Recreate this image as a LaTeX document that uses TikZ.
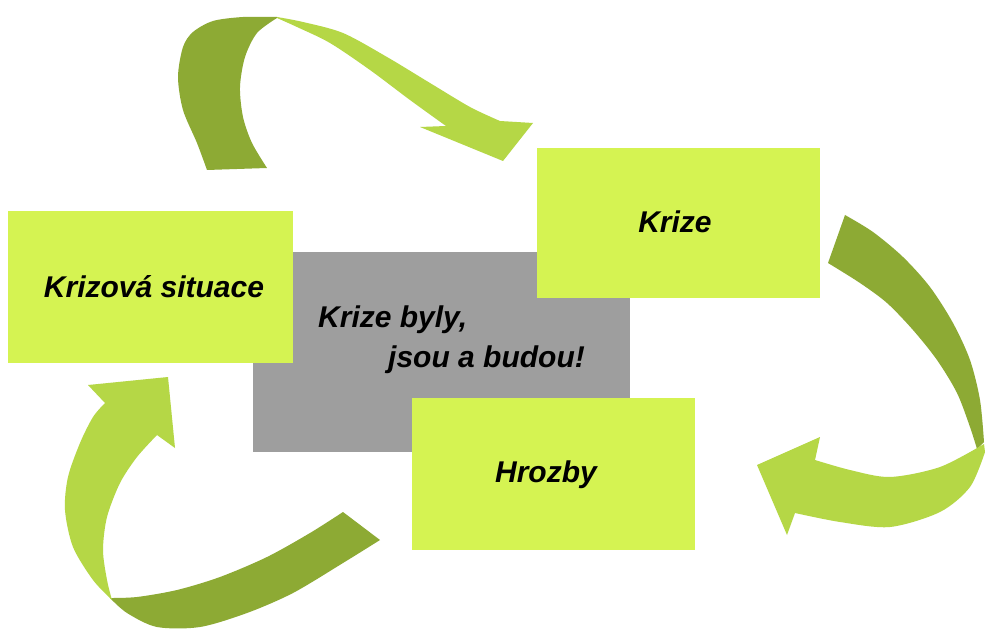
\documentclass[tikz,border=0pt]{standalone}
\usepackage{fontspec}
\setmainfont{Liberation Sans}
\definecolor{boxgreen}{RGB}{213,243,82}
\definecolor{arrowlight}{RGB}{181,215,70}
\definecolor{arrowdark}{RGB}{141,170,52}
\definecolor{centergray}{RGB}{158,158,158}
\begin{document}
\begin{tikzpicture}[x=1pt,y=-1pt,
  box/.style={fill=boxgreen, draw=none, inner sep=0pt},
  graybox/.style={fill=centergray, draw=none, inner sep=0pt},
  txt/.style={font=\fontsize{30}{36}\selectfont\bfseries\itshape, text=black, inner sep=0pt, anchor=base},
  darkpart/.style={fill=arrowdark, draw=none},
  lightpart/.style={fill=arrowlight, draw=none}]
\useasboundingbox[fill=white] (0,0) rectangle (985,631);

% ---- top arrow (Krizova situace -> Krize)
\fill[darkpart] plot[smooth] coordinates {(207,170) (197,143) (183,110) (178,77) (183,47) (193,32) (213,21) (243,17) (277,17)}
  -- plot[smooth] coordinates {(277,18) (257,33) (245,57) (240,87) (243,117) (252,143) (267,168)} -- cycle;
\fill[lightpart] plot[smooth] coordinates {(277,17) (303,22) (343,33) (387,57) (430,83) (470,107) (500,121)}
  -- (533,123) -- (503,161) -- (420,127) -- (446,126)
  -- plot[smooth] coordinates {(446,126) (410,100) (370,70) (330,43) (297,27) (277,18)} -- cycle;

% ---- right arrow (Krize -> Hrozby)
\fill[darkpart] plot[smooth] coordinates {(845,215) (873,232) (903,257) (930,287) (953,323) (970,360) (980,400) (984,442)}
  -- plot[smooth] coordinates {(977,449) (970,427) (957,393) (937,360) (913,330) (887,303) (860,283) (828,263)} -- cycle;
\fill[lightpart] plot[smooth] coordinates {(984,444) (940,467) (890,477) (850,470) (815,460)}
  -- (820,437) -- (757,465) -- (787,535) -- (795,513)
  -- plot[smooth] coordinates {(795,513) (840,522) (890,527) (940,512) (970,487) (985,452)} -- cycle;

% ---- bottom-left arrow (Hrozby -> Krizova situace)
\fill[darkpart] plot[smooth] coordinates {(380,540) (343,563) (293,593) (247,613) (200,627) (157,627) (127,613) (110,598)}
  -- plot[smooth] coordinates {(110,598) (137,597) (177,590) (220,577) (267,557) (310,533) (343,512)} -- cycle;
\fill[lightpart] plot[smooth] coordinates {(112,600) (93,580) (73,547) (65,510) (68,477) (80,443) (93,417) (105,403)}
  -- (88,385) -- (168,377) -- (175,448) -- (157,435)
  -- plot[smooth] coordinates {(157,435) (137,457) (120,483) (107,517) (103,550) (107,580) (112,600)} -- cycle;

% ---- boxes
\node[graybox, minimum width=377pt, minimum height=200pt] (mid) at (441.5,352) {};
\node[box, minimum width=285pt, minimum height=152pt] (ks) at (150.5,287) {};
\node[box, minimum width=283pt, minimum height=150pt] (kr) at (678.5,223) {};
\node[box, minimum width=283pt, minimum height=152pt] (hr) at (553.5,474) {};

% ---- texts
\node[txt] (tks) at (154,297) {Krizová situace};
\node[txt] (tkr) at (675,233) {Krize};
\node[txt] (thr) at (546,482) {Hrozby};
\node[txt, anchor=base west] (tm1) at (318,327) {Krize byly,};
\node[txt, anchor=base west] (tm2) at (388,367) {jsou a budou!};
\end{tikzpicture}
\end{document}
